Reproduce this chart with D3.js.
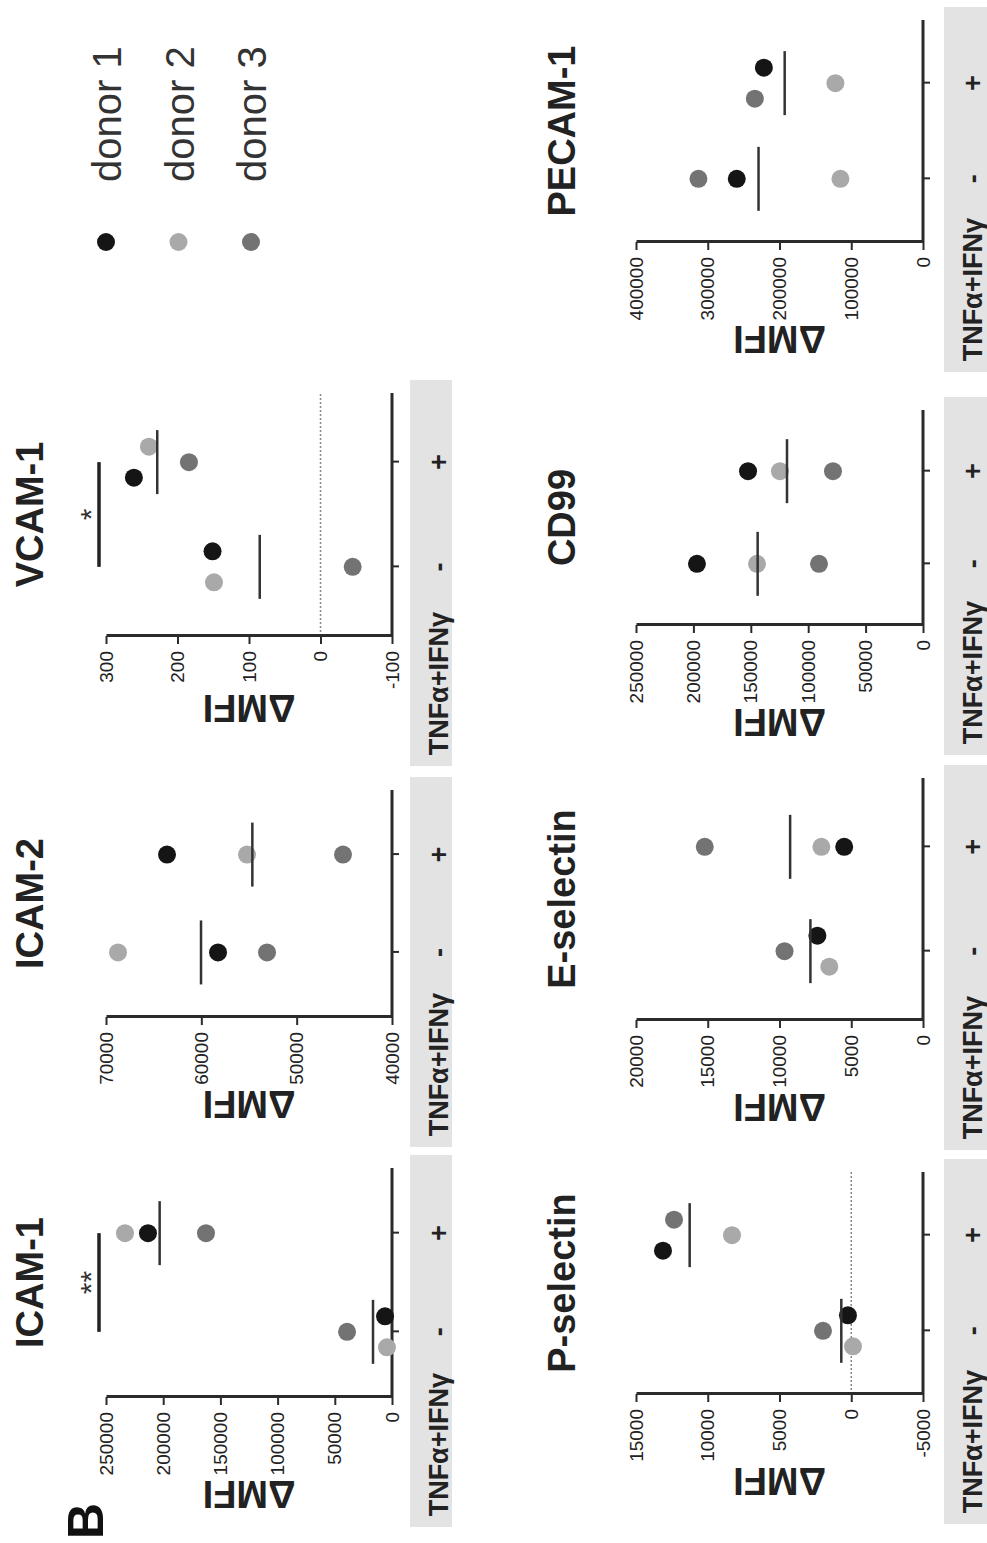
<!DOCTYPE html>
<html>
<head>
<meta charset="utf-8">
<script src="https://cdn.jsdelivr.net/npm/d3@7"></script>
<style>
  body { margin: 0; background: #fff; }
  svg { display: block; font-family: "Liberation Sans", Arial, sans-serif; }
</style>
</head>
<body>
<div class="figure"></div>
<script>
// the figure is laid out landscape (1543 x 987) and then turned a quarter turn onto the page
const pageWidth = 987, pageHeight = 1543;

const donors = ["donor 1", "donor 2", "donor 3"];
const conditions = ["-", "+"];
const markers = ["ICAM-1", "ICAM-2", "VCAM-1", "P-selectin", "E-selectin", "CD99", "PECAM-1"];

// ΔMFI, one row per condition (-, +), one column per donor (1, 2, 3)
const icam1 = [[6100, 4400, 39300], [213300, 233400, 162600]];
const icam2 = [[58250, 68740, 53110], [63600, 55210, 45140]];
const vcam1 = [[151, 149, -45], [261, 240, 184]];
const pselectin = [[230, -120, 1970], [13120, 8310, 12350]];
const eselectin = [[7360, 6530, 9650], [5490, 7080, 15210]];
const cd99 = [[196900, 144600, 90600], [152400, 124600, 78400]];
const pecam1 = [[259600, 115100, 313000], [221800, 122100, 234400]];

const icam1Ticks = [0, 50000, 100000, 150000, 200000, 250000];
const icam2Ticks = [40000, 50000, 60000, 70000];
const vcam1Ticks = [-100, 0, 100, 200, 300];
const pselectinTicks = [-5000, 0, 5000, 10000, 15000];
const eselectinTicks = [0, 5000, 10000, 15000, 20000];
const cd99Ticks = [0, 50000, 100000, 150000, 200000, 250000];
const pecam1Ticks = [0, 100000, 200000, 300000, 400000];

const sigMarkers = ["ICAM-1", "VCAM-1"];
const sigLabels = ["**", "*"];

const values = [icam1, icam2, vcam1, pselectin, eselectin, cd99, pecam1];
const ticks = [icam1Ticks, icam2Ticks, vcam1Ticks, pselectinTicks, eselectinTicks, cd99Ticks, pecam1Ticks];

// layout
const rows = [
  {top: 106, bottom: 392, bandTop: 410, bandBottom: 452, labelBase: 448, titleBase: 43},
  {top: 636, bottom: 923, bandTop: 944, bandBottom: 992, labelBase: 982, titleBase: 575}
];
const panels = [
  {x0: 146, w: 229, row: 0},
  {x0: 526, w: 227, row: 0},
  {x0: 907, w: 243, row: 0},
  {x0: 149, w: 222, row: 1},
  {x0: 523, w: 242, row: 1},
  {x0: 918, w: 215, row: 1},
  {x0: 1301, w: 222, row: 1}
];

const color = d3.scaleOrdinal()
  .domain(donors)
  .range(["#151515", "#a9a9a9", "#737373"]);

const axisColor = "#2b2b2b", textColor = "#222";
const dotR = 9;

const svg = d3.select(".figure")
  .append("svg")
    .attr("width", pageWidth)
    .attr("height", pageHeight);

const fig = svg.append("g")
    .attr("transform", `translate(0,${pageHeight}) rotate(-90)`);

// panel letter
fig.append("text")
  .attr("x", 4).attr("y", 103)
  .attr("font-size", 50).attr("font-weight", "bold")
  .attr("fill", "#111")
  .text("B");

// spread overlapping dots sideways, the higher one leaning to the other group
function spread(vals, y, ci) {
  const order = d3.range(vals.length).sort((a, b) => vals[a] - vals[b]);
  const off = vals.map(() => 0);
  const dir = ci === 0 ? 1 : -1;
  let group = [order[0]];
  const flush = () => group.forEach((k, j) => off[k] = dir * (j - (group.length - 1) / 2) * 31);
  for (let i = 1; i < order.length; i++) {
    if (Math.abs(y(vals[order[i]]) - y(vals[order[i - 1]])) < 20) group.push(order[i]);
    else { flush(); group = [order[i]]; }
  }
  flush();
  return off;
}

markers.forEach((name, p) => {
  const lay = panels[p], row = rows[lay.row];
  const tk = ticks[p];
  const g = fig.append("g").attr("class", "panel");

  const y = d3.scaleLinear()
    .domain(d3.extent(tk))
    .range([row.bottom, row.top]);
  const x = d3.scalePoint()
    .domain(conditions)
    .range([lay.x0, lay.x0 + lay.w])
    .padding(0.66);

  // grey strip behind the condition labels
  g.append("rect")
    .attr("x", lay.x0 - 130)
    .attr("y", row.bandTop)
    .attr("width", lay.w + 143)
    .attr("height", row.bandBottom - row.bandTop)
    .attr("fill", "#e3e3e3");

  // title
  g.append("text")
    .attr("x", lay.x0 + lay.w / 2)
    .attr("y", row.titleBase)
    .attr("text-anchor", "middle")
    .attr("font-size", 38).attr("font-weight", "bold")
    .attr("fill", textColor)
    .text(name);

  // zero reference line
  if (y.domain()[0] < 0) {
    g.append("line")
      .attr("x1", lay.x0).attr("x2", lay.x0 + lay.w)
      .attr("y1", y(0)).attr("y2", y(0))
      .attr("stroke", "#888").attr("stroke-width", 1.5)
      .attr("stroke-dasharray", "2,2");
  }

  // value axis
  const yAxis = g.append("g")
    .attr("transform", `translate(${lay.x0},0)`)
    .call(d3.axisLeft(y).tickValues(tk).tickFormat(d => String(d)).tickSize(8).tickSizeOuter(0).tickPadding(7));
  yAxis.select(".domain").attr("stroke", axisColor).attr("stroke-width", 3);
  yAxis.selectAll(".tick line").attr("stroke", axisColor).attr("stroke-width", 2);
  yAxis.selectAll(".tick text")
    .attr("font-size", 19).attr("font-family", "Liberation Sans, Arial, sans-serif")
    .attr("fill", textColor);

  let maxW = 0;
  yAxis.selectAll(".tick text").each(function() { maxW = Math.max(maxW, this.getComputedTextLength()); });

  // condition axis
  const xAxis = g.append("g")
    .attr("transform", `translate(0,${row.bottom})`)
    .call(d3.axisBottom(x).tickSize(7).tickSizeOuter(0).tickFormat(""));
  xAxis.select(".domain")
    .attr("d", `M${lay.x0},0H${lay.x0 + lay.w}`)
    .attr("stroke", axisColor).attr("stroke-width", 3);
  xAxis.selectAll(".tick line").attr("stroke", axisColor).attr("stroke-width", 2);

  // ΔMFI label
  const lx = lay.x0 - 15 - maxW - 6;
  g.append("text")
    .attr("transform", `translate(${lx},${(row.top + row.bottom) / 2}) rotate(-90)`)
    .attr("text-anchor", "middle")
    .attr("font-size", 38).attr("font-weight", "bold")
    .attr("fill", textColor)
    .text("ΔMFI");

  // treatment labels
  g.append("text")
    .attr("x", lay.x0 + 24).attr("y", row.labelBase)
    .attr("text-anchor", "end")
    .attr("font-size", 27).attr("font-weight", "bold")
    .attr("fill", textColor)
    .text("TNFα+IFNγ");
  g.selectAll(".cond")
    .data(conditions)
    .join("text")
      .attr("class", "cond")
      .attr("x", d => x(d)).attr("y", row.labelBase)
      .attr("text-anchor", "middle")
      .attr("font-size", 27).attr("font-weight", "bold")
      .attr("fill", textColor)
      .text(d => d);

  // dots and means
  conditions.forEach((c, ci) => {
    const vals = values[p][ci];
    const off = spread(vals, y, ci);
    g.append("g")
      .selectAll("circle")
      .data(vals)
      .join("circle")
        .attr("cx", (d, i) => x(c) + off[i])
        .attr("cy", d => y(d))
        .attr("r", dotR)
        .attr("fill", (d, i) => color(donors[i]));
    const m = d3.mean(vals);
    g.append("line")
      .attr("x1", x(c) - 32).attr("x2", x(c) + 32)
      .attr("y1", y(m)).attr("y2", y(m))
      .attr("stroke", "#333").attr("stroke-width", 2.5);
  });

  // significance
  const si = sigMarkers.indexOf(name);
  if (si >= 0) {
    const by = row.top - 7;
    g.append("line")
      .attr("x1", x("-")).attr("x2", x("+"))
      .attr("y1", by).attr("y2", by)
      .attr("stroke", "#222").attr("stroke-width", 3.5);
    g.append("text")
      .attr("x", (x("-") + x("+")) / 2).attr("y", by + 2)
      .attr("text-anchor", "middle")
      .attr("font-size", 30)
      .attr("fill", "#333")
      .text(sigLabels[si]);
  }
});

// legend
const legend = fig.append("g")
    .attr("transform", "translate(1301,106)")
  .selectAll("g")
  .data(donors)
  .join("g")
    .attr("transform", (d, i) => `translate(0,${i * 72.5})`);
legend.append("circle")
  .attr("r", dotR)
  .attr("fill", d => color(d));
legend.append("text")
  .attr("x", 60).attr("y", 15)
  .attr("font-size", 40)
  .attr("fill", "#333")
  .text(d => d);
</script>
</body>
</html>
